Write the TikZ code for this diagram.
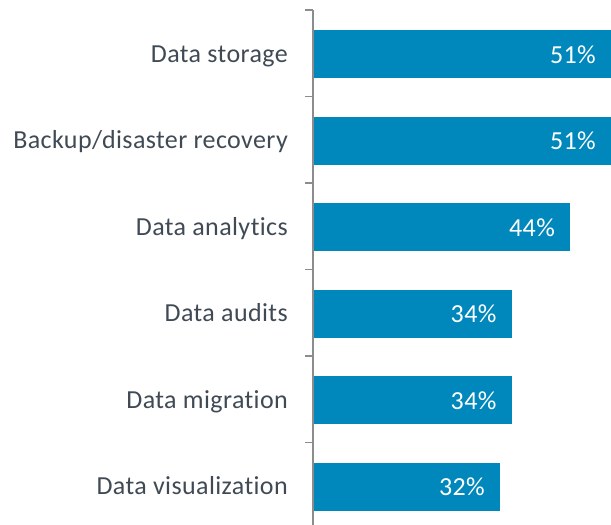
\documentclass[tikz,border=0pt]{standalone}
\usepackage{fontspec}
\setmainfont{Carlito}[LetterSpace=1.5,RawFeature={-liga;-clig;-dlig;-calt}]
\definecolor{barblue}{HTML}{0088BC}
\definecolor{labelgrey}{HTML}{404A55}
\definecolor{axisgrey}{HTML}{8C8C8C}
\begin{document}
\begin{tikzpicture}[x=1pt,y=-1pt,
  bar/.style={fill=barblue,draw=none},
  catlabel/.style={anchor=base east,text=labelgrey,font=\fontsize{26}{28}\selectfont,inner sep=0pt},
  pctlabel/.style={anchor=base east,text=white,font=\fontsize{26}{28}\selectfont,inner sep=0pt},
  axisline/.style={draw=axisgrey,line width=1.6pt}]
\useasboundingbox (0,0) rectangle (611,525);
% bars: value, label
\foreach \v/\t [count=\i from 0] in {51/Data storage,51/Backup\slash disaster recovery,44/Data analytics,34/Data audits,34/Data migration,32/Data visualization}{
  \pgfmathsetmacro{\ytop}{10+86.5*\i+20}
  \pgfmathsetmacro{\xend}{313+5.843*\v}
  \path[bar] (313,\ytop) rectangle (\xend,\ytop+48);
  \node[pctlabel] (p\i) at (\xend-15,\ytop+33) {\v\%};
  \node[catlabel] (c\i) at (288,\ytop+32) {\t};
}
% category axis with ticks
\draw[axisline] (313,10) -- (313,525);
\foreach \i in {0,...,5}{
  \draw[axisline] (305,10+86.5*\i) -- (313,10+86.5*\i);
}
\end{tikzpicture}
\end{document}
